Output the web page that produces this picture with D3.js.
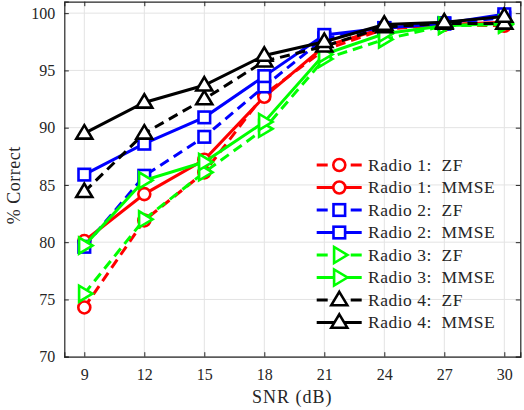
<!DOCTYPE html>
<html>
<head>
<meta charset="utf-8">
<script src="https://cdn.jsdelivr.net/npm/d3@7"></script>
<style>
  body { margin: 0; background: #fff; }
  svg text { font-family: 'Liberation Serif', 'Times New Roman', serif !important; fill: #262626; }
</style>
</head>
<body>
<div id="chart"></div>
<script>
// data
var snr = [9, 12, 15, 18, 21, 24, 27, 30];
var radio1ZF   = [74.3, 81.9, 86.1, 92.9, 96.8, 98.6, 99.0, 98.9];
var radio1MMSE = [80.1, 84.2, 87.2, 92.7, 97.1, 98.7, 99.0, 99.2];
var radio2ZF   = [79.6, 85.8, 89.2, 93.6, 97.8, 98.7, 99.1, 99.6];
var radio2MMSE = [85.9, 88.6, 90.9, 94.5, 98.1, 98.7, 99.1, 99.9];
var radio3ZF   = [75.5, 82.0, 86.1, 89.9, 96.0, 97.7, 98.9, 99.0];
var radio3MMSE = [79.7, 85.4, 87.0, 90.5, 96.4, 98.2, 98.9, 99.1];
var radio4ZF   = [84.4, 89.5, 92.5, 95.8, 97.1, 98.8, 99.1, 99.1];
var radio4MMSE = [89.5, 92.2, 93.7, 96.3, 97.5, 99.0, 99.2, 99.7];
var xTicks = [9, 12, 15, 18, 21, 24, 27, 30];
var yTicks = [70, 75, 80, 85, 90, 95, 100];

var series = [
  {name: "Radio 1:  ZF",   values: radio1ZF,   color: "#ff0000", dash: true,  marker: "circle"},
  {name: "Radio 1:  MMSE", values: radio1MMSE, color: "#ff0000", dash: false, marker: "circle"},
  {name: "Radio 2:  ZF",   values: radio2ZF,   color: "#0000ff", dash: true,  marker: "square"},
  {name: "Radio 2:  MMSE", values: radio2MMSE, color: "#0000ff", dash: false, marker: "square"},
  {name: "Radio 3:  ZF",   values: radio3ZF,   color: "#00ff00", dash: true,  marker: "right"},
  {name: "Radio 3:  MMSE", values: radio3MMSE, color: "#00ff00", dash: false, marker: "right"},
  {name: "Radio 4:  ZF",   values: radio4ZF,   color: "#000000", dash: true,  marker: "up"},
  {name: "Radio 4:  MMSE", values: radio4MMSE, color: "#000000", dash: false, marker: "up"}
];

var serif = "'Liberation Serif', 'Times New Roman', serif";

var svgWidth = 524;
var svgHeight = 410;
var margin = {top: 1.7, right: 3.7, bottom: 53.3, left: 64.3};
var width = svgWidth - margin.left - margin.right;
var height = svgHeight - margin.top - margin.bottom;

var svg = d3.select("#chart").append("svg")
  .attr("width", svgWidth)
  .attr("height", svgHeight)
  .attr("font-family", serif);

var chart = svg.append("g")
  .attr("transform", `translate(${margin.left}, ${margin.top})`);

var x = d3.scaleLinear().domain([8, 30.8]).range([0, width]);
var y = d3.scaleLinear().domain([70, 101]).range([height, 0]);

// grid
chart.append("g").selectAll("line").data(xTicks).enter().append("line")
  .attr("x1", d => x(d)).attr("x2", d => x(d))
  .attr("y1", 0).attr("y2", height)
  .attr("stroke", "#e3e3e3").attr("stroke-width", 1);
chart.append("g").selectAll("line").data(yTicks).enter().append("line")
  .attr("y1", d => y(d)).attr("y2", d => y(d))
  .attr("x1", 0).attr("x2", width)
  .attr("stroke", "#e3e3e3").attr("stroke-width", 1);

// axes, ticks inward on all four sides like matlab's box on
var xAxis = d3.axisBottom(x).tickValues(xTicks).tickSize(-4.5).tickPadding(12);
var yAxis = d3.axisLeft(y).tickValues(yTicks).tickSize(-4.5).tickPadding(9);
var xTop = d3.axisTop(x).tickValues(xTicks).tickSize(-4.5).tickFormat("");
var yRight = d3.axisRight(y).tickValues(yTicks).tickSize(-4.5).tickFormat("");

var gx = chart.append("g").attr("transform", `translate(0, ${height})`).call(xAxis);
var gy = chart.append("g").call(yAxis);
var gt = chart.append("g").call(xTop);
var gr = chart.append("g").attr("transform", `translate(${width}, 0)`).call(yRight);

[gx, gy, gt, gr].forEach(function(g) {
  g.attr("font-family", serif).attr("font-size", 16);
  g.select(".domain").attr("stroke", "#262626").attr("stroke-width", 1.2);
  g.selectAll(".tick line").attr("stroke", "#262626").attr("stroke-width", 1);
  g.selectAll("text").attr("fill", "#262626");
});

// marker shapes
function drawMarker(sel, kind, color) {
  var m;
  if (kind == "circle") {
    m = sel.append("circle").attr("r", 6);
  } else if (kind == "square") {
    m = sel.append("rect").attr("x", -5.8).attr("y", -5.8).attr("width", 11.6).attr("height", 11.6);
  } else if (kind == "up") {
    m = sel.append("path").attr("d", "M0,-8.2L8,5.2L-8,5.2Z");
  } else {
    m = sel.append("path").attr("d", "M8.2,0L-5.2,8L-5.2,-8Z");
  }
  m.attr("fill", "#fff").attr("stroke", color).attr("stroke-width", 2.6);
}

var line = d3.line()
  .x((d, i) => x(snr[i]))
  .y(d => y(d));

// one series at a time: line then markers, like matlab stacks them
series.forEach(function(s) {
  var g = chart.append("g");
  g.append("path")
    .attr("d", line(s.values))
    .attr("fill", "none")
    .attr("stroke", s.color)
    .attr("stroke-width", 3)
    .attr("stroke-dasharray", s.dash ? "10,6" : null);
  s.values.forEach(function(v, i) {
    var mg = g.append("g").attr("transform", `translate(${x(snr[i])}, ${y(v)})`);
    drawMarker(mg, s.marker, s.color);
  });
});

// legend
var legend = svg.append("g");
series.forEach(function(s, i) {
  var cy = 165 + i * 22.5;
  var row = legend.append("g").attr("transform", `translate(0, ${cy})`);
  row.append("line")
    .attr("x1", 316.7).attr("x2", 361.7)
    .attr("y1", 0).attr("y2", 0)
    .attr("stroke", s.color).attr("stroke-width", 3)
    .attr("stroke-dasharray", s.dash ? "11,23,11" : null);
  var mg = row.append("g").attr("transform", "translate(339.3, 0)");
  drawMarker(mg, s.marker, s.color);
  row.append("text")
    .attr("x", 368)
    .attr("y", 5.8)
    .attr("font-family", serif)
    .attr("font-size", 17.5)
    .attr("letter-spacing", 0.5)
    .attr("xml:space", "preserve")
    .style("white-space", "pre")
    .text(s.name);
});

// axis labels
svg.append("text")
  .attr("x", margin.left + width / 2)
  .attr("y", 403)
  .attr("text-anchor", "middle")
  .attr("font-size", 18)
  .attr("letter-spacing", 1)
  .text("SNR (dB)");

svg.append("text")
  .attr("transform", `translate(20, ${margin.top + height / 2 + 6}) rotate(-90)`)
  .attr("text-anchor", "middle")
  .attr("font-size", 18)
  .attr("letter-spacing", 0.5)
  .text("% Correct");
</script>
</body>
</html>
